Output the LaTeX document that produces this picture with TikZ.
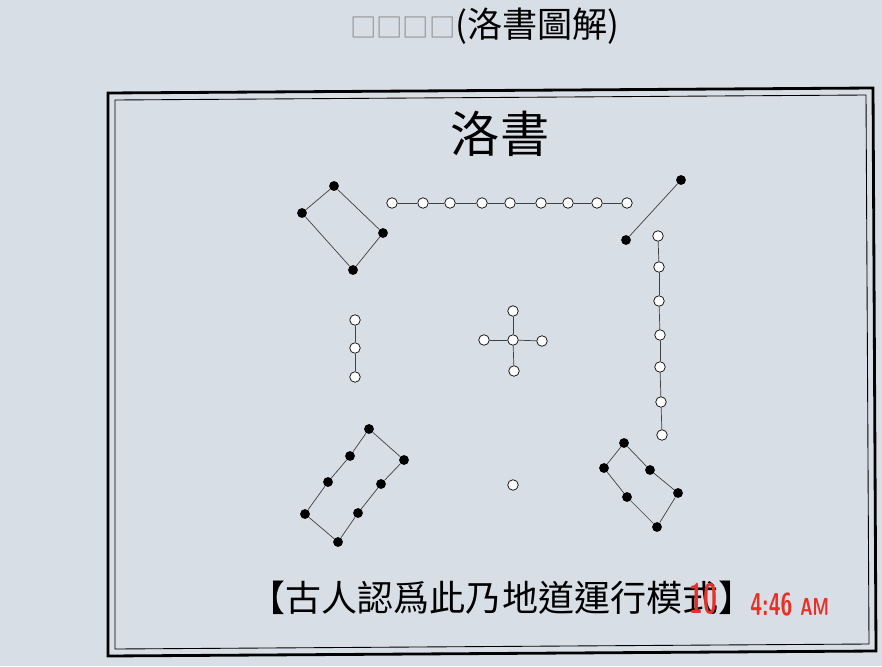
\documentclass[tikz,border=0pt]{standalone}
\usepackage{fontspec}
\newfontfamily\cjk{Noto Sans CJK TC}
\definecolor{paper}{RGB}{216,222,229}
\definecolor{stamp}{RGB}{232,48,40}

\begin{document}
\begin{tikzpicture}[x=0.02cm, y=-0.02cm, line width=0.4pt]
    \tikzset{blackdot/.style={circle,fill=black,inner sep=0pt,minimum size=5.6pt},
             whitedot/.style={circle,draw,fill=white,inner sep=0pt,minimum size=6pt},
             link/.style={draw=black!75}}
    \fill[paper] (0,0) rectangle (882,666);
    \useasboundingbox (0,0) rectangle (882,666);

    % double frame
    \draw[line width=1.6pt] (108,93) -- (873,88) -- (876,651) -- (108,656) -- cycle;
    \draw[line width=0.5pt] (115,100) -- (866,95) -- (869,644) -- (115,649) -- cycle;

    % texts
    \node (head) at (485,26) {\cjk\fontsize{20pt}{20pt}\selectfont{\color{black!45}\fontsize{15pt}{15pt}\selectfont □□□□}(洛書圖解)};
    \node (title) at (500,134) {\cjk\fontsize{28pt}{28pt}\selectfont 洛書};
    \node[inner sep=0pt] (note) at (502,598) {\cjk\fontsize{20.5pt}{20.5pt}\selectfont 【古人認爲此乃地道運行模式】};
    \node[text=stamp,inner sep=0pt] (day) at (703,599) {\sffamily\bfseries\fontsize{24pt}{24pt}\selectfont\scalebox{0.6}[1]{10}};
    \node[text=stamp,inner sep=0pt,anchor=west] (time) at (750,605) {\sffamily\bfseries\fontsize{18pt}{18pt}\selectfont\scalebox{0.68}[1]{4:46 {\fontsize{14pt}{14pt}\selectfont AM}}};

    % four (top left)
    \node[blackdot] (four1) at (334,186) {};
    \node[blackdot] (four2) at (302,213) {};
    \node[blackdot] (four3) at (353,270) {};
    \node[blackdot] (four4) at (383,233) {};
    \path[link] (four1) edge (four2) (four2) edge (four3)
                (four3) edge (four4) (four4) edge (four1);

    % nine (top)
    \foreach \x [count=\i] in {392,423,450,482,510,541,568,597,627}
        \node[whitedot] (nine\i) at (\x,203) {};
    \foreach \i [count=\j from 2] in {1,...,8}
        \path[link] (nine\i) edge (nine\j);

    % two (top right)
    \node[blackdot] (two1) at (681,180) {};
    \node[blackdot] (two2) at (626,240) {};
    \path[link] (two1) edge (two2);

    % three (left)
    \foreach \y [count=\i] in {320,348,377}
        \node[whitedot] (three\i) at (355,\y) {};
    \path[link] (three1) edge (three2) (three2) edge (three3);

    % five (centre)
    \node[whitedot] (fiveC) at (513,340) {};
    \node[whitedot] (fiveN) at (513,311) {};
    \node[whitedot] (fiveS) at (514,371) {};
    \node[whitedot] (fiveW) at (484,340) {};
    \node[whitedot] (fiveE) at (542,341) {};
    \path[link] (fiveC) edge (fiveN) (fiveC) edge (fiveS)
                (fiveC) edge (fiveW) (fiveC) edge (fiveE);

    % seven (right)
    \foreach \x/\y [count=\i] in {658/236,659/267,659/301,660/335,660/367,661/402,662/435}
        \node[whitedot] (seven\i) at (\x,\y) {};
    \foreach \i [count=\j from 2] in {1,...,6}
        \path[link] (seven\i) edge (seven\j);

    % eight (bottom left)
    \foreach \x/\y [count=\i] in {369/429,350/456,328/482,305/514,338/542,358/513,381/484,404/460}
        \node[blackdot] (eight\i) at (\x,\y) {};
    \foreach \i [count=\j from 2] in {1,...,7}
        \path[link] (eight\i) edge (eight\j);
    \path[link] (eight8) edge (eight1);

    % one (bottom)
    \node[whitedot] (one) at (513,485) {};

    % six (bottom right)
    \foreach \x/\y [count=\i] in {624/443,604/468,627/497,657/527,678/493,650/470}
        \node[blackdot] (six\i) at (\x,\y) {};
    \foreach \i [count=\j from 2] in {1,...,5}
        \path[link] (six\i) edge (six\j);
    \path[link] (six6) edge (six1);
\end{tikzpicture}
\end{document}
